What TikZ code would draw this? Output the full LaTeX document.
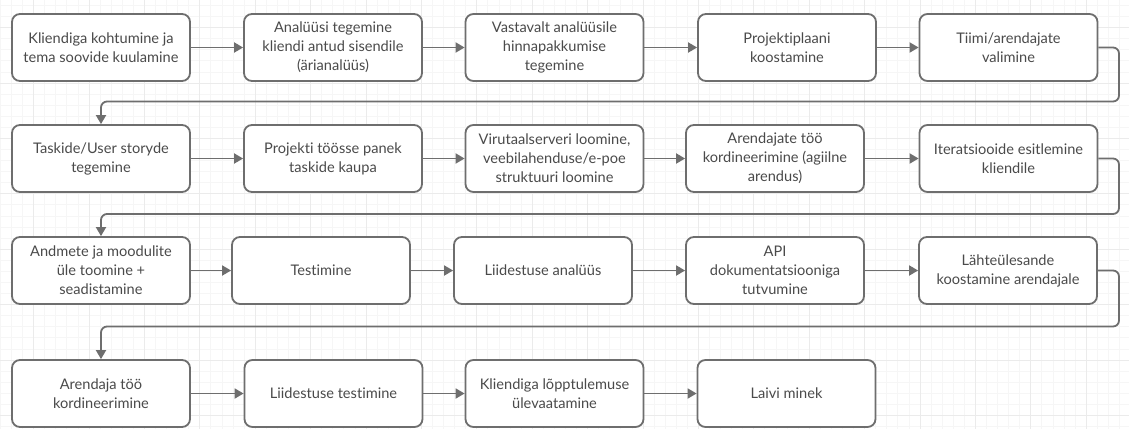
\documentclass[tikz,border=0pt]{standalone}
\usepackage{fontspec}
\setmainfont{Lato}[Ligatures={NoCommon}]
\usetikzlibrary{arrows.meta}
\definecolor{edgegray}{HTML}{6E6E6E}
\definecolor{txtgray}{HTML}{4A4A4A}
\definecolor{minorgrid}{HTML}{F6F6F6}
\definecolor{majorgrid}{HTML}{EBEBEB}
\tikzset{
  box/.style={draw=edgegray, line width=1.8pt, rounded corners=8pt, fill=white,
    minimum width=178pt, minimum height=67pt, inner sep=0pt, align=center,
    text=txtgray, font=\fontsize{14.6pt}{19pt}\selectfont},
  flow/.style={draw=edgegray, line width=1.8pt, -{Triangle[length=9pt,width=10pt]}},
  loopflow/.style={flow, rounded corners=6pt}
}
\begin{document}
\begin{tikzpicture}[x=1pt,y=-1pt]
\useasboundingbox (0,0) rectangle (1129,429);
\fill[white] (0,0) rectangle (1129,429);
% grid
\foreach \i in {0,...,102} {
  \draw[minorgrid, line width=0.8pt] ({0.36+11.08*\i},0) -- ({0.36+11.08*\i},429);
}
\foreach \j in {0,...,38} {
  \draw[minorgrid, line width=0.8pt] (0,{5.44+11.08*\j}) -- (1129,{5.44+11.08*\j});
}
\foreach \i in {0,...,20} {
  \draw[majorgrid, line width=1pt] ({33.6+55.4*\i},0) -- ({33.6+55.4*\i},429);
}
\foreach \j in {0,...,7} {
  \draw[majorgrid, line width=1pt] (0,{27.6+55.4*\j}) -- (1129,{27.6+55.4*\j});
}
% row 1
\node[box] (a1) at (101,47.5) {Kliendiga kohtumine ja\\tema soovide kuulamine};
\node[box] (a2) at (333,47.5) {Analüüsi tegemine\\kliendi antud sisendile\\(ärianalüüs)};
\node[box] (a3) at (554.5,47.5) {Vastavalt analüüsile\\hinnapakkumise\\tegemine};
\node[box] (a4) at (787,47.5) {Projektiplaani\\koostamine};
\node[box] (a5) at (1008.5,47.5) {Tiimi/arendajate\\valimine};
% row 2
\node[box] (b1) at (101,158.5) {Taskide/User storyde\\tegemine};
\node[box] (b2) at (333,158.5) {Projekti töösse panek\\taskide kaupa};
\node[box] (b3) at (554.5,158.5) {Virutaalserveri loomine,\\veebilahenduse/e-poe\\struktuuri loomine};
\node[box] (b4) at (775,158.5) {Arendajate töö\\kordineerimine (agiilne\\arendus)};
\node[box] (b5) at (1008.5,158.5) {Iteratsiooide esitlemine\\kliendile};
% row 3
\node[box] (c1) at (101,270.5) {Andmete ja moodulite\\üle toomine +\\seadistamine};
\node[box] (c2) at (321,270.5) {Testimine};
\node[box] (c3) at (543,270.5) {Liidestuse analüüs};
\node[box] (c4) at (775,270.5) {API\\dokumentatsiooniga\\tutvumine};
\node[box] (c5) at (1008,270.5) {Lähteülesande\\koostamine arendajale};
% row 4
\node[box] (d1) at (101,393.5) {Arendaja töö\\kordineerimine};
\node[box] (d2) at (333.5,393.5) {Liidestuse testimine};
\node[box] (d3) at (554.5,393.5) {Kliendiga lõpptulemuse\\ülevaatamine};
\node[box] (d4) at (786.5,393.5) {Laivi minek};
% horizontal connectors
\draw[flow] (a1) -- (a2);
\draw[flow] (a2) -- (a3);
\draw[flow] (a3) -- (a4);
\draw[flow] (a4) -- (a5);
\draw[flow] (b1) -- (b2);
\draw[flow] (b2) -- (b3);
\draw[flow] (b3) -- (b4);
\draw[flow] (b4) -- (b5);
\draw[flow] (c1) -- (c2);
\draw[flow] (c2) -- (c3);
\draw[flow] (c3) -- (c4);
\draw[flow] (c4) -- (c5);
\draw[flow] (d1) -- (d2);
\draw[flow] (d2) -- (d3);
\draw[flow] (d3) -- (d4);
% row wraps
\draw[loopflow] (a5.east) -- (1119,47.5) -- (1119,101.5) -- (101,101.5) -- (b1.north);
\draw[loopflow] (b5.east) -- (1119,158.5) -- (1119,214) -- (101,214) -- (c1.north);
\draw[loopflow] (c5.east) -- (1119,270.5) -- (1119,326.5) -- (101,326.5) -- (d1.north);
\end{tikzpicture}
\end{document}
